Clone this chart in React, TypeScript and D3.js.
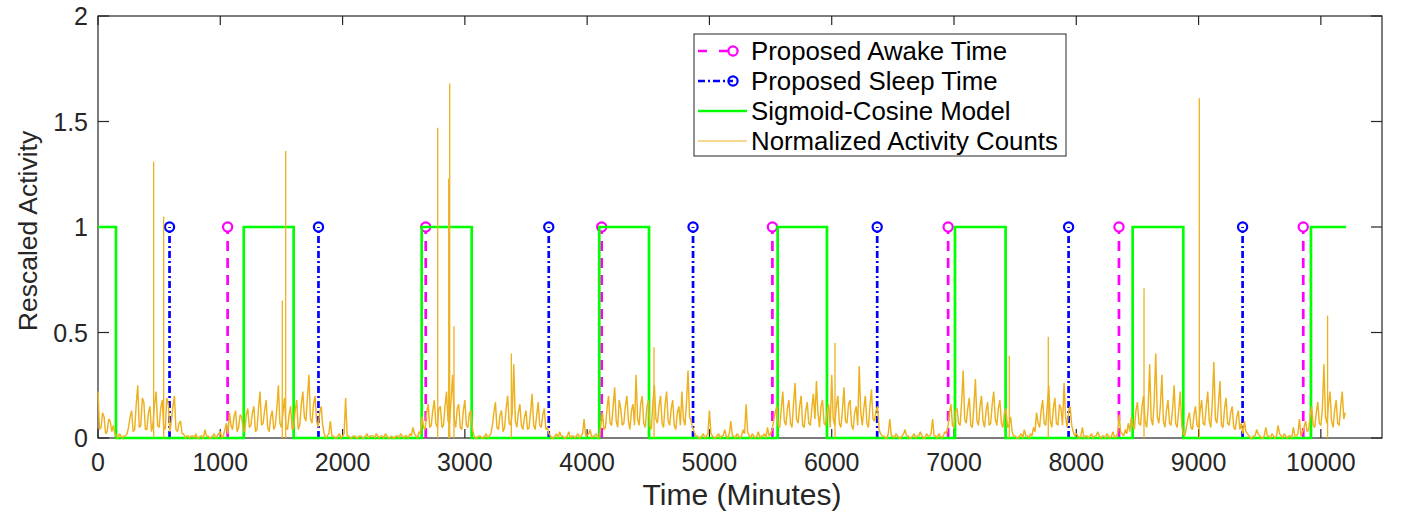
import React from 'react';
import * as d3 from 'd3';

// activity counts, one value every 25 minutes from minute 0 to 10200
const activityStep = 25;
const activity = [
  0.22, 0.05, 0.10, 0.03, 0.08, 0.06, 0.01, 0.02,
  0.00, 0.01, 0.05, 0.13, 0.04, 0.25, 0.06, 0.17,
  0.04, 0.15, 0.07, 0.22, 0.05, 0.18, 0.04, 0.16,
  0.08, 0.20, 0.03, 0.08, 0.02, 0.01, 0.00, 0.01,
  0.02, 0.00, 0.01, 0.04, 0.01, 0.00, 0.02, 0.01,
  0.03, 0.01, 0.07, 0.12, 0.04, 0.13, 0.05, 0.10,
  0.03, 0.14, 0.06, 0.15, 0.04, 0.22, 0.07, 0.18,
  0.03, 0.13, 0.06, 0.25, 0.05, 0.19, 0.04, 0.15,
  0.05, 0.18, 0.06, 0.22, 0.08, 0.30, 0.07, 0.20,
  0.05, 0.15, 0.02, 0.01, 0.08, 0.01, 0.00, 0.02,
  0.01, 0.19, 0.01, 0.00, 0.01, 0.00, 0.01, 0.00,
  0.02, 0.01, 0.01, 0.02, 0.00, 0.01, 0.02, 0.00,
  0.01, 0.00, 0.01, 0.02, 0.00, 0.01, 0.02, 0.05,
  0.01, 0.03, 0.10, 0.04, 0.16, 0.06, 0.18, 0.05,
  0.15, 0.06, 0.22, 0.07, 0.30, 0.05, 0.16, 0.04,
  0.18, 0.05, 0.13, 0.01, 0.00, 0.01, 0.00, 0.02,
  0.01, 0.06, 0.17, 0.04, 0.13, 0.05, 0.20, 0.06,
  0.35, 0.05, 0.16, 0.04, 0.13, 0.05, 0.21, 0.04,
  0.17, 0.05, 0.14, 0.05, 0.01, 0.00, 0.02, 0.03,
  0.01, 0.00, 0.03, 0.01, 0.00, 0.02, 0.01, 0.09,
  0.01, 0.04, 0.01, 0.02, 0.01, 0.12, 0.05, 0.20,
  0.06, 0.24, 0.05, 0.14, 0.07, 0.20, 0.04, 0.16,
  0.30, 0.06, 0.20, 0.05, 0.18, 0.04, 0.25, 0.07,
  0.20, 0.05, 0.22, 0.06, 0.18, 0.04, 0.15, 0.22,
  0.06, 0.32, 0.08, 0.03, 0.01, 0.00, 0.02, 0.01,
  0.13, 0.01, 0.00, 0.02, 0.01, 0.04, 0.00, 0.08,
  0.01, 0.02, 0.00, 0.04, 0.16, 0.01, 0.02, 0.00,
  0.03, 0.01, 0.02, 0.05, 0.02, 0.08, 0.15, 0.05,
  0.22, 0.06, 0.18, 0.05, 0.26, 0.07, 0.20, 0.05,
  0.17, 0.06, 0.21, 0.27, 0.05, 0.18, 0.06, 0.16,
  0.30, 0.06, 0.20, 0.05, 0.24, 0.07, 0.18, 0.04,
  0.15, 0.34, 0.06, 0.20, 0.05, 0.23, 0.08, 0.15,
  0.02, 0.01, 0.00, 0.09, 0.01, 0.02, 0.00, 0.01,
  0.04, 0.01, 0.00, 0.02, 0.01, 0.03, 0.00, 0.02,
  0.01, 0.09, 0.01, 0.02, 0.00, 0.03, 0.05, 0.16,
  0.05, 0.14, 0.06, 0.32, 0.07, 0.19, 0.05, 0.28,
  0.06, 0.20, 0.05, 0.17, 0.07, 0.22, 0.06, 0.18,
  0.05, 0.14, 0.06, 0.03, 0.01, 0.00, 0.02, 0.04,
  0.01, 0.02, 0.05, 0.12, 0.05, 0.18, 0.06, 0.25,
  0.05, 0.19, 0.06, 0.14, 0.26, 0.05, 0.15, 0.03,
  0.02, 0.00, 0.05, 0.01, 0.00, 0.02, 0.01, 0.03,
  0.00, 0.01, 0.02, 0.00, 0.03, 0.01, 0.11, 0.02,
  0.04, 0.07, 0.10, 0.04, 0.17, 0.06, 0.20, 0.05,
  0.35, 0.06, 0.40, 0.07, 0.30, 0.05, 0.18, 0.06,
  0.25, 0.05, 0.22, 0.02, 0.05, 0.12, 0.04, 0.15,
  0.05, 0.18, 0.06, 0.22, 0.05, 0.36, 0.07, 0.27,
  0.05, 0.19, 0.06, 0.15, 0.04, 0.13, 0.07, 0.08,
  0.02, 0.00, 0.01, 0.04, 0.01, 0.00, 0.05, 0.01,
  0.02, 0.00, 0.06, 0.01, 0.02, 0.00, 0.01, 0.05,
  0.01, 0.09, 0.03, 0.08, 0.04, 0.15, 0.05, 0.17,
  0.06, 0.35, 0.07, 0.22, 0.05, 0.18, 0.06, 0.22,
  0.12,
];

// readings half-way between the ones above (minute 12.5, 37.5, ... 10187.5)
const activityMid = [
  0.04, 0.12, 0.02, 0.09, 0.03, 0.02, 0.00, 0.01,
  0.01, 0.02, 0.10, 0.03, 0.16, 0.05, 0.19, 0.04,
  0.12, 0.03, 0.16, 0.06, 0.14, 0.05, 0.19, 0.03,
  0.15, 0.04, 0.07, 0.02, 0.00, 0.01, 0.01, 0.00,
  0.00, 0.01, 0.00, 0.01, 0.00, 0.01, 0.00, 0.02,
  0.00, 0.04, 0.02, 0.06, 0.10, 0.03, 0.11, 0.04,
  0.11, 0.05, 0.12, 0.03, 0.14, 0.06, 0.13, 0.05,
  0.10, 0.04, 0.14, 0.07, 0.12, 0.05, 0.11, 0.04,
  0.13, 0.04, 0.16, 0.10, 0.19, 0.09, 0.16, 0.08,
  0.12, 0.06, 0.00, 0.02, 0.01, 0.00, 0.01, 0.00,
  0.02, 0.01, 0.00, 0.01, 0.00, 0.01, 0.00, 0.01,
  0.00, 0.01, 0.00, 0.01, 0.01, 0.00, 0.01, 0.00,
  0.00, 0.01, 0.00, 0.01, 0.01, 0.00, 0.01, 0.02,
  0.00, 0.02, 0.05, 0.12, 0.05, 0.13, 0.07, 0.14,
  0.05, 0.15, 0.08, 0.18, 0.09, 0.14, 0.05, 0.13,
  0.06, 0.12, 0.04, 0.00, 0.01, 0.00, 0.01, 0.00,
  0.02, 0.12, 0.05, 0.11, 0.03, 0.14, 0.07, 0.12,
  0.08, 0.12, 0.06, 0.10, 0.04, 0.12, 0.06, 0.11,
  0.06, 0.11, 0.04, 0.02, 0.00, 0.01, 0.00, 0.01,
  0.00, 0.01, 0.00, 0.01, 0.01, 0.00, 0.02, 0.01,
  0.02, 0.00, 0.01, 0.00, 0.06, 0.04, 0.14, 0.07,
  0.15, 0.08, 0.18, 0.06, 0.15, 0.08, 0.13, 0.06,
  0.09, 0.16, 0.07, 0.14, 0.06, 0.17, 0.09, 0.15,
  0.07, 0.16, 0.08, 0.14, 0.06, 0.12, 0.06, 0.09,
  0.17, 0.10, 0.05, 0.01, 0.00, 0.01, 0.00, 0.02,
  0.02, 0.00, 0.01, 0.00, 0.01, 0.01, 0.02, 0.01,
  0.00, 0.01, 0.01, 0.02, 0.03, 0.00, 0.01, 0.01,
  0.00, 0.01, 0.00, 0.01, 0.04, 0.12, 0.06, 0.14,
  0.08, 0.14, 0.07, 0.16, 0.09, 0.15, 0.06, 0.13,
  0.07, 0.14, 0.09, 0.12, 0.15, 0.07, 0.12, 0.05,
  0.09, 0.15, 0.07, 0.13, 0.08, 0.16, 0.06, 0.12,
  0.06, 0.12, 0.14, 0.07, 0.15, 0.09, 0.13, 0.04,
  0.01, 0.00, 0.02, 0.01, 0.00, 0.01, 0.00, 0.02,
  0.01, 0.00, 0.01, 0.00, 0.01, 0.01, 0.00, 0.01,
  0.02, 0.01, 0.00, 0.01, 0.01, 0.02, 0.12, 0.06,
  0.13, 0.07, 0.17, 0.09, 0.14, 0.06, 0.15, 0.08,
  0.15, 0.08, 0.13, 0.06, 0.16, 0.09, 0.14, 0.07,
  0.12, 0.05, 0.10, 0.01, 0.00, 0.01, 0.00, 0.01,
  0.00, 0.01, 0.03, 0.07, 0.13, 0.07, 0.15, 0.08,
  0.14, 0.07, 0.16, 0.06, 0.10, 0.13, 0.06, 0.01,
  0.01, 0.01, 0.00, 0.01, 0.01, 0.00, 0.01, 0.01,
  0.01, 0.00, 0.01, 0.01, 0.00, 0.02, 0.03, 0.01,
  0.02, 0.03, 0.06, 0.13, 0.07, 0.15, 0.08, 0.14,
  0.09, 0.18, 0.10, 0.15, 0.08, 0.13, 0.07, 0.14,
  0.07, 0.13, 0.06, 0.01, 0.09, 0.05, 0.11, 0.06,
  0.13, 0.07, 0.15, 0.08, 0.17, 0.09, 0.16, 0.06,
  0.14, 0.07, 0.12, 0.05, 0.10, 0.04, 0.02, 0.03,
  0.01, 0.00, 0.01, 0.02, 0.00, 0.01, 0.01, 0.00,
  0.01, 0.01, 0.02, 0.00, 0.01, 0.01, 0.00, 0.01,
  0.02, 0.01, 0.05, 0.03, 0.10, 0.06, 0.12, 0.07,
  0.14, 0.10, 0.16, 0.08, 0.13, 0.07, 0.15, 0.09,
];

// single-minute bursts [minute, value]
const activitySpikes: [number, number][] = [
  [455, 1.31], [537, 1.05], [1507, 0.65], [1535, 1.36],
  [2778, 1.47], [2868, 1.23], [2876, 1.68], [2911, 0.53],
  [3380, 0.40], [4547, 0.43], [6027, 0.45], [7452, 0.39],
  [7771, 0.48], [8554, 0.71], [9006, 1.61], [10055, 0.58],
];

// sigmoid-cosine model (square wave): switch minutes and level from there on
const modelTimes = [0, 147, 1192, 1600, 2647, 3056, 4099, 4506, 5558, 5961, 7008, 7422, 8461, 8875, 9919, 10205];
const modelLevels = [1, 0, 1, 0, 1, 0, 1, 0, 1, 0, 1, 0, 1, 0, 1, 1];

const awakeTimes = [1060, 2680, 4119, 5515, 6952, 8349, 9856];
const sleepTimes = [585, 1803, 3686, 4866, 6372, 7937, 9360];

const xTicks = [0, 1000, 2000, 3000, 4000, 5000, 6000, 7000, 8000, 9000, 10000];
const yTicks = [0, 0.5, 1, 1.5, 2];

const W = 1404;
const H = 514;
const margin = { left: 98, right: 22, top: 16, bottom: 76 };
const FONT = 'Liberation Sans, Arial, Helvetica, sans-serif';
const AXIS = '#262626';
const ORANGE = '#EDB120';
const MAGENTA = '#FF00FF';
const BLUE = '#0000FF';
const GREEN = '#00FF00';

export default function App() {
  const x = d3.scaleLinear().domain([0, 10500]).range([margin.left, W - margin.right]);
  const y = d3.scaleLinear().domain([0, 2]).range([H - margin.bottom, margin.top]);
  const [x0, x1] = x.range();
  const [yb, yt] = y.range();

  const actPoints: [number, number][] = [];
  activity.forEach((v, i) => {
    actPoints.push([i * activityStep, v]);
    if (i < activityMid.length) actPoints.push([i * activityStep + activityStep / 2, activityMid[i]]);
  });

  const actLine = d3.line<[number, number]>()
    .x(d => x(d[0]))
    .y(d => y(d[1]));

  const modelLine = d3.line<number>()
    .x((_, i) => x(modelTimes[i]))
    .y(d => y(d))
    .curve(d3.curveStepAfter);

  const legendRows = [
    { label: 'Proposed Awake Time', kind: 'awake' },
    { label: 'Proposed Sleep Time', kind: 'sleep' },
    { label: 'Sigmoid-Cosine Model', kind: 'model' },
    { label: 'Normalized Activity Counts', kind: 'act' },
  ];
  const lg = { x: 694, y: 34, w: 372, h: 122 };

  return (
    <svg width={W} height={H} style={{ position: 'absolute', left: 0, top: 0, background: '#fff' }}
      fontFamily={FONT}>
      <rect x={0} y={0} width={W} height={H} fill="#fff" />

      {/* axes box and ticks */}
      <rect x={x0} y={yt} width={x1 - x0} height={yb - yt} fill="none" stroke={AXIS} strokeWidth={1.2} />
      {xTicks.map(t => (
        <g key={'xt' + t}>
          <line x1={x(t)} x2={x(t)} y1={yb} y2={yb - 9} stroke={AXIS} strokeWidth={1.2} />
          <line x1={x(t)} x2={x(t)} y1={yt} y2={yt + 9} stroke={AXIS} strokeWidth={1.2} />
          <text x={x(t)} y={yb + 33} textAnchor="middle" fontSize={25} fill={AXIS}>{t}</text>
        </g>
      ))}
      {yTicks.map(t => (
        <g key={'yt' + t}>
          <line x1={x0} x2={x0 + 11} y1={y(t)} y2={y(t)} stroke={AXIS} strokeWidth={1.2} />
          <line x1={x1} x2={x1 - 11} y1={y(t)} y2={y(t)} stroke={AXIS} strokeWidth={1.2} />
          <text x={x0 - 10} y={y(t) + 9} textAnchor="end" fontSize={25} fill={AXIS}>{t}</text>
        </g>
      ))}
      <text x={(x0 + x1) / 2 + 2} y={505} textAnchor="middle" fontSize={30} fill={AXIS}>Time (Minutes)</text>
      <text transform={`translate(37,${(yb + yt) / 2 + 4}) rotate(-90)`} textAnchor="middle" fontSize={26.5} fill={AXIS}>
        Rescaled Activity
      </text>

      {/* stems */}
      {awakeTimes.map(t => (
        <g key={'aw' + t}>
          <line x1={x(t)} x2={x(t)} y1={y(0)} y2={y(1) + 4} stroke={MAGENTA} strokeWidth={2.7} strokeDasharray="10,7" />
          <circle cx={x(t)} cy={y(1)} r={4.6} fill="none" stroke={MAGENTA} strokeWidth={2.2} />
        </g>
      ))}
      {sleepTimes.map(t => (
        <g key={'sl' + t}>
          <line x1={x(t)} x2={x(t)} y1={y(0)} y2={y(1)} stroke={BLUE} strokeWidth={2.7} strokeDasharray="7,3,2,3" />
          <circle cx={x(t)} cy={y(1)} r={4.6} fill="none" stroke={BLUE} strokeWidth={2.2} />
        </g>
      ))}

      <path d={modelLine(modelLevels) || ''} fill="none" stroke={GREEN} strokeWidth={2.7} />
      <path d={actLine(actPoints) || ''} fill="none" stroke={ORANGE} strokeWidth={1.45} strokeLinejoin="bevel" />
      {activitySpikes.map(([m, v]) => (
        <line key={'sp' + m} x1={x(m)} x2={x(m)} y1={y(0)} y2={y(v)} stroke={ORANGE} strokeWidth={1.3} />
      ))}

      {/* legend */}
      <rect x={lg.x} y={lg.y} width={lg.w} height={lg.h} fill="#fff" stroke={AXIS} strokeWidth={1} />
      {legendRows.map((r, i) => {
        const cy = lg.y + 17 + i * 30;
        return (
          <g key={r.kind}>
            {r.kind === 'awake' && (
              <g>
                <line x1={698} x2={729} y1={cy} y2={cy} stroke={MAGENTA} strokeWidth={2.7} strokeDasharray="9,12" />
                <circle cx={733} cy={cy} r={4.6} fill="none" stroke={MAGENTA} strokeWidth={2.2} />
              </g>
            )}
            {r.kind === 'sleep' && (
              <g>
                <line x1={698} x2={733} y1={cy} y2={cy} stroke={BLUE} strokeWidth={2.7} strokeDasharray="7,3,2,3" />
                <circle cx={733} cy={cy} r={4.6} fill="none" stroke={BLUE} strokeWidth={2.2} />
              </g>
            )}
            {r.kind === 'model' && (
              <line x1={698} x2={747} y1={cy} y2={cy} stroke={GREEN} strokeWidth={2.7} />
            )}
            {r.kind === 'act' && (
              <line x1={698} x2={747} y1={cy} y2={cy} stroke={ORANGE} strokeWidth={1} />
            )}
            <text x={751} y={cy + 9} fontSize={25.8} fill="#000">{r.label}</text>
          </g>
        );
      })}
    </svg>
  );
}
